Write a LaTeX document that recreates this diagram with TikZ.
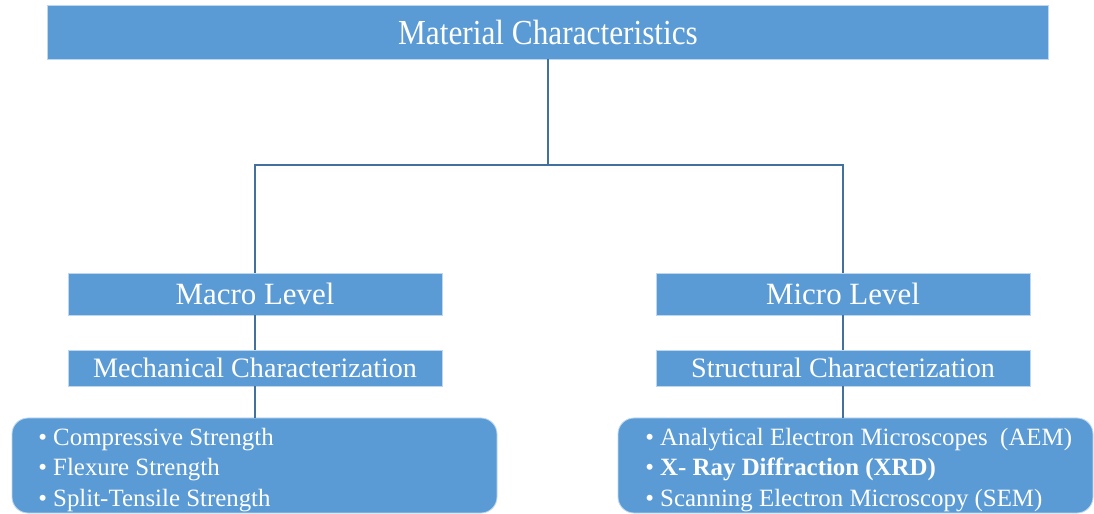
\documentclass[tikz,border=0pt]{standalone}
\usepackage{fontspec}
\setmainfont{Liberation Serif}
\usepackage{graphicx}
\usetikzlibrary{positioning,calc}
\definecolor{boxblue}{HTML}{5B9BD5}
\definecolor{boxedge}{HTML}{BDD7EE}
\definecolor{linkblue}{HTML}{41719C}

\tikzset{
  levelbox/.style={draw=boxedge,line width=0.6pt,fill=boxblue,text=white,rectangle,inner sep=0pt},
  listbox/.style={levelbox,rounded corners=0.4cm},
  listtext/.style={text=white,align=left,anchor=west,inner sep=0pt,font=\fontsize{17.7}{21.6}\selectfont},
  link/.style={draw=linkblue,line width=1.4pt}
}

\begin{document}
\begin{tikzpicture}
            \useasboundingbox (0,0) rectangle (27.35,-12.85);

            % Top level
            \node[levelbox,minimum width=25.025cm,minimum height=1.35cm] (material) at (13.7,-0.8) {\fontsize{25}{28}\selectfont\scalebox{0.89}[1]{Material Characteristics}};
            \coordinate (split) at (13.7,-4.125);

            % Macro branch
            \node[levelbox,minimum width=9.35cm,minimum height=1.05cm] (macro) at (6.375,-7.35) {\fontsize{22}{26}\selectfont Macro Level};
            \node[levelbox,minimum width=9.35cm,minimum height=0.9cm] (mech) at (6.375,-9.2) {\fontsize{20}{24}\selectfont Mechanical Characterization};
            \node[listbox,minimum width=12.125cm,minimum height=2.375cm] (mechlist) at (6.3625,-11.6375) {};
            \node[listtext] (mechtext) at (0.95,-11.75) {• Compressive Strength\\
              • Flexure Strength\\
              • Split-Tensile Strength};

            % Micro branch
            \node[levelbox,minimum width=9.35cm,minimum height=1.05cm] (micro) at (21.075,-7.35) {\fontsize{22}{26}\selectfont Micro Level};
            \node[levelbox,minimum width=9.35cm,minimum height=0.9cm] (struct) at (21.075,-9.2) {\fontsize{20}{24}\selectfont Structural Characterization};
            \node[listbox,minimum width=11.875cm,minimum height=2.375cm] (structlist) at (21.3875,-11.6375) {};
            \node[listtext] (structtext) at (16.125,-11.75) {• Analytical Electron Microscopes~~(AEM)\\
              • \textbf{X- Ray Diffraction (XRD)}\\
              • Scanning Electron Microscopy (SEM)};

            % Connectors
            \draw[link] (material.south) -- (split);
            \draw[link] (split) -| (macro.north);
            \draw[link] (split) -| (micro.north);
            \draw[link] (macro.south) -- (mech.north);
            \draw[link] (micro.south) -- (struct.north);
            \draw[link] (mech.south) -- (mech.south |- mechlist.north);
            \draw[link] (struct.south) -- (struct.south |- structlist.north);
        \end{tikzpicture}
\end{document}
